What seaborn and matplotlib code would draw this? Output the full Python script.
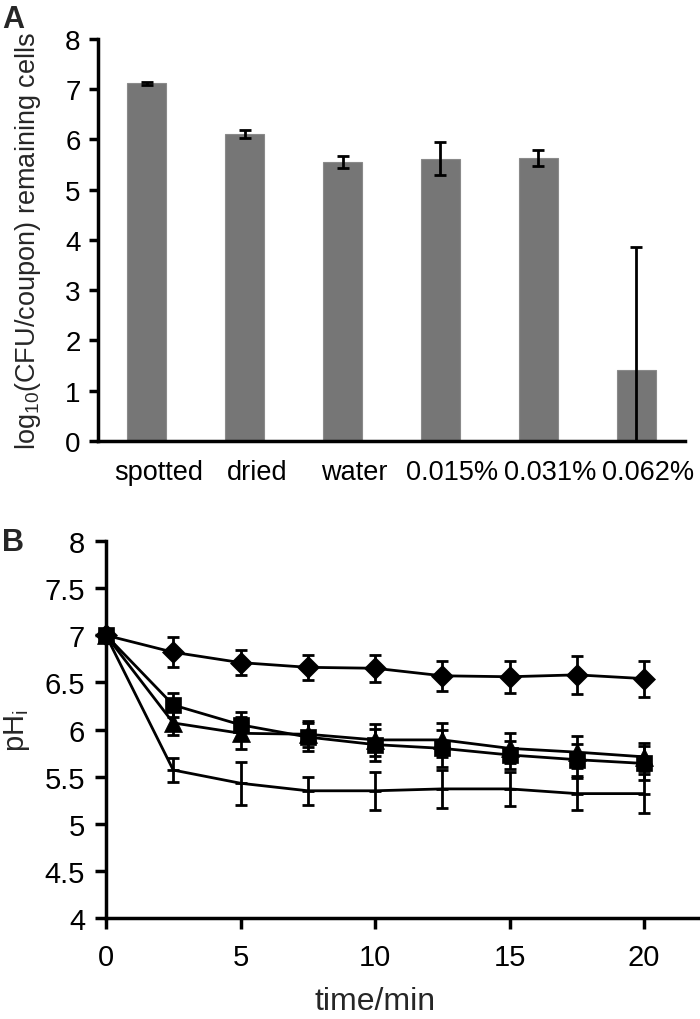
import numpy as np
import pandas as pd
import matplotlib
matplotlib.use("Agg")
import matplotlib.pyplot as plt
from matplotlib.transforms import ScaledTranslation
import seaborn as sns

# ---------------- data ----------------
categories = ["spotted", "dried", "water", "0.015%", "0.031%", "0.062%"]
log_cfu = [7.12, 6.11, 5.56, 5.62, 5.64, 1.42]
log_cfu_err = [0.03, 0.08, 0.12, 0.33, 0.16, 2.45]

times = [0, 2.5, 5, 7.5, 10, 12.5, 15, 17.5, 20]
ph_diamond = [7.0, 6.82, 6.71, 6.66, 6.65, 6.57, 6.56, 6.58, 6.54]
ph_diamond_err = [0, 0.16, 0.135, 0.135, 0.145, 0.16, 0.17, 0.2, 0.19]
ph_square = [7.0, 6.26, 6.05, 5.92, 5.84, 5.80, 5.73, 5.68, 5.64]
ph_square_err = [0, 0.13, 0.14, 0.15, 0.17, 0.2, 0.15, 0.17, 0.18]
ph_triangle = [7.0, 6.07, 5.96, 5.95, 5.89, 5.89, 5.80, 5.76, 5.71]
ph_triangle_err = [0, 0.13, 0.17, 0.14, 0.17, 0.18, 0.16, 0.17, 0.15]
ph_dash = [7.0, 5.57, 5.43, 5.35, 5.35, 5.37, 5.37, 5.32, 5.32]
ph_dash_err = [0, 0.13, 0.23, 0.15, 0.20, 0.20, 0.18, 0.17, 0.21]

yticks_b = [4, 4.5, 5, 5.5, 6, 6.5, 7, 7.5, 8]
yticklabels_b = ["4", "4.5", "5", "5.5", "6", "6.5", "7", "7.5", "8"]

# ---------------- style ----------------
sns.set_theme(style="ticks")
plt.rcParams["font.family"] = ["Liberation Sans", "DejaVu Sans"]
plt.rcParams["mathtext.fontset"] = "custom"
plt.rcParams["mathtext.rm"] = "Liberation Sans"
plt.rcParams["mathtext.it"] = "Liberation Sans"
plt.rcParams["mathtext.default"] = "regular"
plt.rcParams["axes.linewidth"] = 2.5
plt.rcParams["axes.edgecolor"] = "black"

fig = plt.figure(figsize=(7.0, 10.2), dpi=100)

LW = 2.0

# ---------------- panel A ----------------
axA = fig.add_axes([0.140, 0.5667, 0.8386, 0.3941])
dfA = pd.DataFrame({"cat": categories, "val": log_cfu})
sns.barplot(data=dfA, x="cat", y="val", ax=axA, color="#767676",
            saturation=1, width=0.4, edgecolor="#8a8a8a", linewidth=0.8)
axA.errorbar(x=np.arange(len(categories)), y=log_cfu, yerr=log_cfu_err,
             fmt="none", ecolor="black", elinewidth=LW, capsize=4.5,
             capthick=LW, zorder=5)
axA.set_xlim(-0.5, 5.5)
axA.set_ylim(0, 8)
axA.set_yticks(range(0, 9))
axA.set_xlabel("")
axA.set_ylabel(r"log$_{10}$(CFU/coupon) remaining cells", fontsize=19.5,
               labelpad=16)
axA.tick_params(axis="y", length=6.5, width=2.5, pad=6, labelsize=20,
                color="black", labelcolor="black")
axA.tick_params(axis="x", length=0, pad=13, labelsize=19.5, labelcolor="black")
off = ScaledTranslation(12 / 100, 0, fig.dpi_scale_trans)
for lab in axA.get_xticklabels():
    lab.set_transform(lab.get_transform() + off)
sns.despine(ax=axA)

# ---------------- panel B ----------------
axB = fig.add_axes([0.1514, 0.0990, 0.8457, 0.3696])
series = [
    (ph_diamond, ph_diamond_err, "D", 11.5),
    (ph_dash, ph_dash_err, "_", 9),
    (ph_triangle, ph_triangle_err, "^", 13),
    (ph_square, ph_square_err, "s", 12),
]
for vals, errs, mk, ms in series:
    axB.errorbar(times, vals, yerr=errs, fmt="none", ecolor="black",
                 elinewidth=LW, capsize=4.5, capthick=LW, clip_on=False)
    sns.lineplot(x=times, y=vals, ax=axB, color="black", linewidth=LW,
                 marker=mk, markersize=ms, markeredgecolor="black",
                 markerfacecolor="black",
                 markeredgewidth=LW if mk == "_" else 0.5,
                 clip_on=False)
axB.set_xlim(0, 22)
axB.set_ylim(4, 8)
axB.set_xticks([0, 5, 10, 15, 20])
axB.set_yticks(yticks_b)
axB.set_yticklabels(yticklabels_b)
axB.set_xlabel("time/min", fontsize=23)
axB.xaxis.set_label_coords(10 / 22, -0.18)
axB.set_ylabel(r"pH$_{i}$", fontsize=21, labelpad=9)
axB.tick_params(axis="both", length=8, width=2.5, color="black",
                labelsize=21, labelcolor="black")
axB.tick_params(axis="x", pad=10)
axB.tick_params(axis="y", pad=7)
sns.despine(ax=axB)

fig.text(0.003, 1 - 5 / 1020, "A", fontsize=22, fontweight="bold", va="top", ha="left")
fig.text(0.003, 1 - 528 / 1020, "B", fontsize=22, fontweight="bold", va="top", ha="left")

fig.savefig("out.png", dpi=100)
